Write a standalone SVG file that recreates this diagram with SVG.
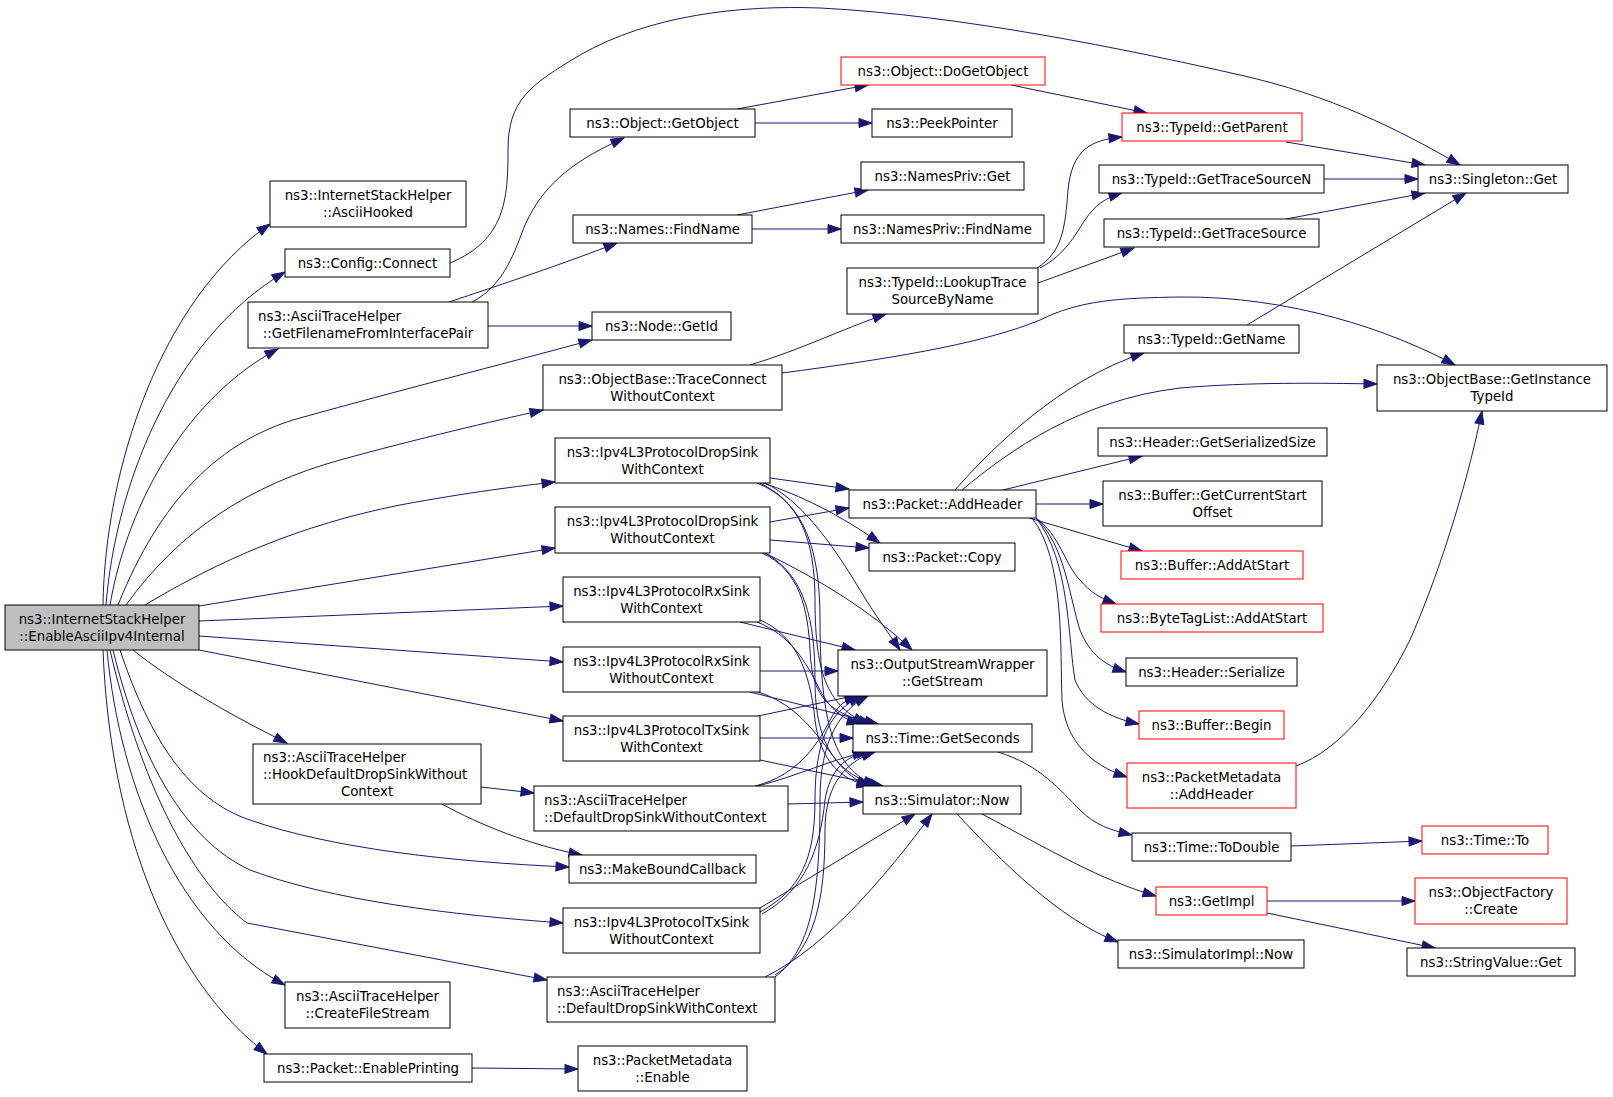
<svg xmlns="http://www.w3.org/2000/svg" width="1613" height="1097" viewBox="0 0 1613 1097">
<style>
.n rect{fill:#fff;stroke:#000;stroke-width:1}
.r rect{stroke:#f00}
.m rect{fill:#bfbfbf}
text{font-family:"DejaVu Sans","Liberation Sans",sans-serif;font-size:13.33px;fill:#000}
.c{text-anchor:middle}
.e path{fill:none;stroke:#191970;stroke-width:1;marker-end:url(#ah)}
</style>
<defs>
<marker id="ah" markerWidth="13" markerHeight="9" refX="13" refY="4.5" orient="auto" markerUnits="userSpaceOnUse" overflow="visible"><path d="M0,0 L13,4.5 L0,9 z" fill="#191970" stroke="#191970" stroke-width="1"/></marker>
</defs>
<rect width="1613" height="1097" fill="#fff"/>
<g class="e" id="edges">
<path d="M103,605 C105,470 160,300 270,224"/>
<path d="M106,605 C115,490 170,340 285,272"/>
<path d="M110,605 C128,500 190,395 278,349"/>
<path d="M118,605 C160,500 220,440 300,418 C400,390 500,365 592,340"/>
<path d="M126,605 C180,530 250,485 340,460 C420,438 490,422 543,410"/>
<path d="M145,605 C220,560 300,525 400,505 C470,492 520,486 555,482"/>
<path d="M199,606 L555,548"/>
<path d="M199,621 L563,606"/>
<path d="M199,636 L563,662"/>
<path d="M199,650 L563,721"/>
<path d="M133,650 C170,680 230,715 287,743"/>
<path d="M120,650 C150,740 190,800 250,820 C330,848 450,862 569,867"/>
<path d="M113,650 C140,760 185,840 250,870 C330,900 450,915 563,923"/>
<path d="M110,650 C140,780 190,880 247,923 L547,980"/>
<path d="M107,650 C120,790 180,930 285,985"/>
<path d="M103,650 C110,830 170,980 267,1054"/>
<path d="M481,787 L534,793"/>
<path d="M442,804 C480,825 530,845 582,855"/>
<path d="M472,302 C505,285 515,250 525,225 C545,180 580,158 624,138"/>
<path d="M449,302 C500,285 560,265 617,243"/>
<path d="M488,326 L592,326"/>
<path d="M450,263 C505,240 508,200 508,150 C508,100 530,85 580,55 C650,15 740,5 820,8 C960,15 1130,50 1240,75 C1330,95 1400,130 1460,165"/>
<path d="M737,109 L868,85"/>
<path d="M755,123 L872,123"/>
<path d="M1011,85 L1147,113"/>
<path d="M737,215 L868,190"/>
<path d="M752,229 L841,229"/>
<path d="M750,365 C800,350 840,330 886,314"/>
<path d="M782,373 C880,360 980,345 1040,320 C1080,300 1120,298 1180,297 C1290,296 1390,330 1455,365"/>
<path d="M1037,268 C1062,252 1065,230 1068,190 C1072,150 1090,140 1122,137"/>
<path d="M1040,268 C1065,255 1075,235 1085,220 C1095,205 1105,198 1122,193"/>
<path d="M1038,283 L1134,248"/>
<path d="M1286,142 L1425,165"/>
<path d="M1324,179 L1418,179"/>
<path d="M1286,219 L1425,193"/>
<path d="M1247,325 L1466,193"/>
<path d="M955,490 C990,450 1060,380 1144,353"/>
<path d="M962,490 C1010,450 1080,400 1180,388 C1250,382 1320,383 1377,384"/>
<path d="M1003,490 L1142,456"/>
<path d="M1036,504 L1103,504"/>
<path d="M1029,518 L1142,551"/>
<path d="M1036,518 C1060,535 1065,565 1080,580 C1090,592 1100,598 1116,604"/>
<path d="M1036,518 C1065,545 1070,600 1080,630 C1090,655 1105,665 1126,672"/>
<path d="M1036,518 C1070,560 1068,640 1075,680 C1085,705 1110,718 1139,724"/>
<path d="M1032,518 C1065,560 1060,650 1062,700 C1065,740 1090,765 1127,777"/>
<path d="M1296,766 C1340,750 1380,700 1410,640 C1445,560 1470,470 1482,411"/>
<path d="M998,752 C1040,765 1060,790 1080,810 C1095,825 1110,830 1132,835"/>
<path d="M1291,846 L1422,841"/>
<path d="M982,814 C1050,850 1100,880 1156,896"/>
<path d="M957,814 C1000,860 1060,920 1118,942"/>
<path d="M1267,901 L1415,901"/>
<path d="M1267,913 L1435,948"/>
<path d="M472,1068 L578,1069"/>
<path d="M770,478 L849,489"/>
<path d="M763,483 C800,495 840,515 880,543"/>
<path d="M765,483 C800,500 830,540 860,590 C875,615 890,635 900,650"/>
<path d="M757,483 C800,500 815,540 815,600 C815,680 830,705 866,724"/>
<path d="M760,483 C805,505 820,550 820,620 C820,740 840,770 876,786"/>
<path d="M770,522 L849,508"/>
<path d="M770,540 L869,548"/>
<path d="M765,553 C820,580 870,610 912,650"/>
<path d="M762,553 C800,570 808,610 810,650 C812,700 830,712 872,724"/>
<path d="M765,553 C805,575 815,620 815,680 C815,750 840,775 880,786"/>
<path d="M740,622 L855,650"/>
<path d="M757,622 C790,635 805,660 820,690 C830,710 845,720 860,724"/>
<path d="M760,620 C795,635 810,670 815,720 C820,760 840,780 870,786"/>
<path d="M760,671 L838,671"/>
<path d="M750,692 L878,724"/>
<path d="M758,692 C800,705 820,740 840,765 C850,777 860,782 870,786"/>
<path d="M758,716 L858,695"/>
<path d="M760,738 L853,738"/>
<path d="M760,760 L883,786"/>
<path d="M788,804 L863,802"/>
<path d="M755,786 C800,775 820,740 830,720 C838,705 845,700 858,696"/>
<path d="M758,786 C800,775 830,760 866,752"/>
<path d="M760,908 L915,814"/>
<path d="M760,912 C800,890 815,860 815,800 C815,740 830,710 862,696"/>
<path d="M762,914 C805,890 820,850 825,800 C830,770 845,755 870,752"/>
<path d="M765,977 C830,945 890,870 932,814"/>
<path d="M775,977 C810,950 820,900 820,800 C820,740 840,710 868,696"/>
<path d="M775,975 C815,950 825,900 825,830 C825,780 850,760 875,752"/>
</g>
<g class="n m" id="n_main"><rect x="5" y="605" width="194" height="45"/><text class="c" x="102" y="623.7">ns3::InternetStackHelper</text><text class="c" x="102" y="640.7">::EnableAsciiIpv4Internal</text></g>
<g class="n" id="n_asciihooked"><rect x="270" y="181" width="196" height="46"/><text class="c" x="368" y="199.7">ns3::InternetStackHelper</text><text class="c" x="368" y="216.7">::AsciiHooked</text></g>
<g class="n" id="n_connect"><rect x="285" y="249" width="165" height="28"/><text class="c" x="367.5" y="268">ns3::Config::Connect</text></g>
<g class="n" id="n_getfilename"><rect x="248" y="302" width="240" height="46"/><text x="258" y="320.7">ns3::AsciiTraceHelper</text><text class="c" x="368" y="337.7">::GetFilenameFromInterfacePair</text></g>
<g class="n" id="n_getobject"><rect x="570" y="109" width="185" height="28"/><text class="c" x="662.5" y="128">ns3::Object::GetObject</text></g>
<g class="n r" id="n_dogetobject"><rect x="841" y="57" width="204" height="28"/><text class="c" x="943" y="76">ns3::Object::DoGetObject</text></g>
<g class="n" id="n_peekpointer"><rect x="872" y="109" width="140" height="28"/><text class="c" x="942" y="128">ns3::PeekPointer</text></g>
<g class="n" id="n_findname"><rect x="573" y="215" width="179" height="28"/><text class="c" x="662.5" y="234">ns3::Names::FindName</text></g>
<g class="n" id="n_privget"><rect x="861" y="162" width="163" height="28"/><text class="c" x="942.5" y="181">ns3::NamesPriv::Get</text></g>
<g class="n" id="n_privfindname"><rect x="841" y="215" width="203" height="28"/><text class="c" x="942.5" y="234">ns3::NamesPriv::FindName</text></g>
<g class="n" id="n_getid"><rect x="592" y="312" width="139" height="28"/><text class="c" x="661.5" y="331">ns3::Node::GetId</text></g>
<g class="n" id="n_traceconnect"><rect x="543" y="365" width="239" height="45"/><text class="c" x="662.5" y="383.7">ns3::ObjectBase::TraceConnect</text><text class="c" x="662.5" y="400.7">WithoutContext</text></g>
<g class="n" id="n_lookup"><rect x="847" y="268" width="191" height="46"/><text class="c" x="942.5" y="286.7">ns3::TypeId::LookupTrace</text><text class="c" x="942.5" y="303.7">SourceByName</text></g>
<g class="n r" id="n_getparent"><rect x="1122" y="113" width="180" height="28"/><text class="c" x="1212" y="132">ns3::TypeId::GetParent</text></g>
<g class="n" id="n_gettracesourcen"><rect x="1099" y="165" width="225" height="28"/><text class="c" x="1211.5" y="184">ns3::TypeId::GetTraceSourceN</text></g>
<g class="n" id="n_gettracesource"><rect x="1104" y="219" width="215" height="28"/><text class="c" x="1211.5" y="238">ns3::TypeId::GetTraceSource</text></g>
<g class="n" id="n_singleton"><rect x="1418" y="165" width="150" height="28"/><text class="c" x="1493" y="184">ns3::Singleton::Get</text></g>
<g class="n" id="n_getname"><rect x="1124" y="325" width="175" height="28"/><text class="c" x="1211.5" y="344">ns3::TypeId::GetName</text></g>
<g class="n" id="n_instancetypeid"><rect x="1377" y="365" width="230" height="46"/><text class="c" x="1492" y="383.7">ns3::ObjectBase::GetInstance</text><text class="c" x="1492" y="400.7">TypeId</text></g>
<g class="n" id="n_dropsinkwith"><rect x="555" y="438" width="215" height="45"/><text class="c" x="662.5" y="456.7">ns3::Ipv4L3ProtocolDropSink</text><text class="c" x="662.5" y="473.7">WithContext</text></g>
<g class="n" id="n_dropsinkwithout"><rect x="555" y="507" width="215" height="46"/><text class="c" x="662.5" y="525.7">ns3::Ipv4L3ProtocolDropSink</text><text class="c" x="662.5" y="542.7">WithoutContext</text></g>
<g class="n" id="n_rxwith"><rect x="563" y="577" width="197" height="45"/><text class="c" x="661.5" y="595.7">ns3::Ipv4L3ProtocolRxSink</text><text class="c" x="661.5" y="612.7">WithContext</text></g>
<g class="n" id="n_rxwithout"><rect x="563" y="647" width="197" height="45"/><text class="c" x="661.5" y="665.7">ns3::Ipv4L3ProtocolRxSink</text><text class="c" x="661.5" y="682.7">WithoutContext</text></g>
<g class="n" id="n_txwith"><rect x="563" y="716" width="197" height="45"/><text class="c" x="661.5" y="734.7">ns3::Ipv4L3ProtocolTxSink</text><text class="c" x="661.5" y="751.7">WithContext</text></g>
<g class="n" id="n_hook"><rect x="253" y="744" width="228" height="60"/><text x="263" y="761.7">ns3::AsciiTraceHelper</text><text x="263" y="778.7">::HookDefaultDropSinkWithout</text><text class="c" x="367" y="795.7">Context</text></g>
<g class="n" id="n_ddswithout"><rect x="534" y="786" width="254" height="45"/><text x="544" y="804.7">ns3::AsciiTraceHelper</text><text x="544" y="821.7">::DefaultDropSinkWithoutContext</text></g>
<g class="n" id="n_makebound"><rect x="569" y="855" width="187" height="28"/><text class="c" x="662.5" y="874">ns3::MakeBoundCallback</text></g>
<g class="n" id="n_txwithout"><rect x="563" y="908" width="197" height="45"/><text class="c" x="661.5" y="926.7">ns3::Ipv4L3ProtocolTxSink</text><text class="c" x="661.5" y="943.7">WithoutContext</text></g>
<g class="n" id="n_ddswith"><rect x="547" y="977" width="228" height="45"/><text x="557" y="995.7">ns3::AsciiTraceHelper</text><text x="557" y="1012.7">::DefaultDropSinkWithContext</text></g>
<g class="n" id="n_createfilestream"><rect x="285" y="982" width="165" height="46"/><text class="c" x="367.5" y="1000.7">ns3::AsciiTraceHelper</text><text class="c" x="367.5" y="1017.7">::CreateFileStream</text></g>
<g class="n" id="n_enableprinting"><rect x="264" y="1054" width="208" height="28"/><text class="c" x="368" y="1073">ns3::Packet::EnablePrinting</text></g>
<g class="n" id="n_pmenable"><rect x="578" y="1046" width="169" height="45"/><text class="c" x="662.5" y="1064.7">ns3::PacketMetadata</text><text class="c" x="662.5" y="1081.7">::Enable</text></g>
<g class="n" id="n_addheader"><rect x="849" y="490" width="187" height="28"/><text class="c" x="942.5" y="509">ns3::Packet::AddHeader</text></g>
<g class="n" id="n_copy"><rect x="869" y="543" width="146" height="28"/><text class="c" x="942" y="562">ns3::Packet::Copy</text></g>
<g class="n" id="n_getstream"><rect x="838" y="650" width="209" height="46"/><text class="c" x="942.5" y="668.7">ns3::OutputStreamWrapper</text><text class="c" x="942.5" y="685.7">::GetStream</text></g>
<g class="n" id="n_getseconds"><rect x="853" y="724" width="179" height="28"/><text class="c" x="942.5" y="743">ns3::Time::GetSeconds</text></g>
<g class="n" id="n_simnow"><rect x="863" y="786" width="158" height="28"/><text class="c" x="942" y="805">ns3::Simulator::Now</text></g>
<g class="n" id="n_getserializedsize"><rect x="1098" y="428" width="229" height="28"/><text class="c" x="1212.5" y="447">ns3::Header::GetSerializedSize</text></g>
<g class="n" id="n_getcurrentstartoffset"><rect x="1103" y="481" width="219" height="45"/><text class="c" x="1212.5" y="499.7">ns3::Buffer::GetCurrentStart</text><text class="c" x="1212.5" y="516.7">Offset</text></g>
<g class="n r" id="n_bufaddatstart"><rect x="1121" y="551" width="182" height="28"/><text class="c" x="1212" y="570">ns3::Buffer::AddAtStart</text></g>
<g class="n r" id="n_bytetag"><rect x="1101" y="604" width="222" height="28"/><text class="c" x="1212" y="623">ns3::ByteTagList::AddAtStart</text></g>
<g class="n" id="n_serialize"><rect x="1126" y="658" width="171" height="28"/><text class="c" x="1211.5" y="677">ns3::Header::Serialize</text></g>
<g class="n r" id="n_begin"><rect x="1139" y="711" width="145" height="28"/><text class="c" x="1211.5" y="730">ns3::Buffer::Begin</text></g>
<g class="n r" id="n_pmaddheader"><rect x="1127" y="763" width="169" height="45"/><text class="c" x="1211.5" y="781.7">ns3::PacketMetadata</text><text class="c" x="1211.5" y="798.7">::AddHeader</text></g>
<g class="n" id="n_todouble"><rect x="1132" y="833" width="159" height="28"/><text class="c" x="1211.5" y="852">ns3::Time::ToDouble</text></g>
<g class="n r" id="n_to"><rect x="1422" y="826" width="126" height="28"/><text class="c" x="1485" y="845">ns3::Time::To</text></g>
<g class="n r" id="n_getimpl"><rect x="1156" y="887" width="111" height="28"/><text class="c" x="1211.5" y="906">ns3::GetImpl</text></g>
<g class="n r" id="n_ofcreate"><rect x="1415" y="878" width="152" height="46"/><text class="c" x="1491" y="896.7">ns3::ObjectFactory</text><text class="c" x="1491" y="913.7">::Create</text></g>
<g class="n" id="n_simimplnow"><rect x="1118" y="940" width="186" height="28"/><text class="c" x="1211" y="959">ns3::SimulatorImpl::Now</text></g>
<g class="n" id="n_stringvalue"><rect x="1407" y="948" width="168" height="28"/><text class="c" x="1491" y="967">ns3::StringValue::Get</text></g>
</svg>
